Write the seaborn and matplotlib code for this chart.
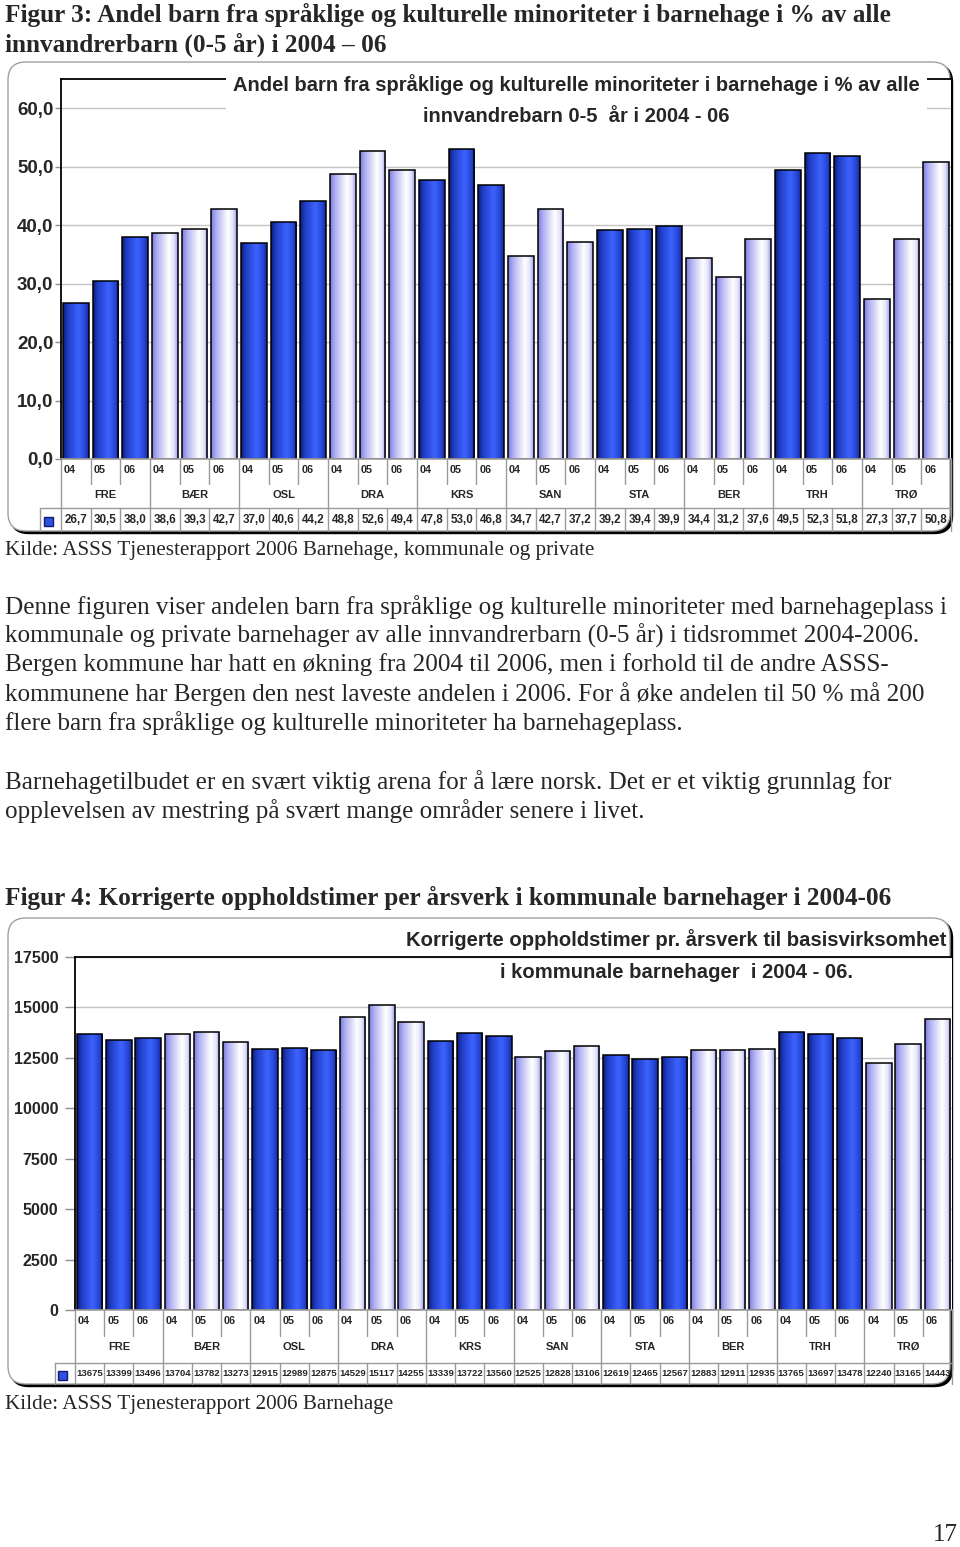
import numpy as np
import pandas as pd
import matplotlib
matplotlib.use("Agg")
import matplotlib.pyplot as plt
import seaborn as sns
from matplotlib.patches import FancyBboxPatch, Rectangle
from matplotlib.colors import LinearSegmentedColormap

# ---------------- data ----------------
groups = ["FRE", "BÆR", "OSL", "DRA", "KRS", "SAN", "STA", "BER", "TRH", "TRØ"]
years = ["04", "05", "06"]
share_values = [26.7, 30.5, 38.0, 38.6, 39.3, 42.7, 37.0, 40.6, 44.2, 48.8,
                52.6, 49.4, 47.8, 53.0, 46.8, 34.7, 42.7, 37.2, 39.2, 39.4,
                39.9, 34.4, 31.2, 37.6, 49.5, 52.3, 51.8, 27.3, 37.7, 50.8]
hours_values = [13675, 13399, 13496, 13704, 13782, 13273, 12915, 12989, 12875, 14529,
                15117, 14255, 13339, 13722, 13560, 12525, 12828, 13106, 12619, 12465,
                12567, 12883, 12911, 12935, 13765, 13697, 13478, 12240, 13165, 14443]
share_ticks = [0, 10, 20, 30, 40, 50, 60]
hours_ticks = [0, 2500, 5000, 7500, 10000, 12500, 15000, 17500]

heading1 = ["Figur 3: Andel barn fra språklige og kulturelle minoriteter i barnehage i % av alle",
            "innvandrerbarn (0-5 år) i 2004 – 06"]
title1 = ["Andel barn fra språklige og kulturelle minoriteter i barnehage i % av alle",
          "innvandrebarn 0-5  år i 2004 - 06"]
source1 = "Kilde: ASSS Tjenesterapport 2006 Barnehage, kommunale og private"
body = ["Denne figuren viser andelen barn fra språklige og kulturelle minoriteter med barnehageplass i",
        "kommunale og private barnehager av alle innvandrerbarn (0-5 år) i tidsrommet 2004-2006.",
        "Bergen kommune har hatt en økning fra 2004 til 2006, men i forhold til de andre ASSS-",
        "kommunene har Bergen den nest laveste andelen i 2006. For å øke andelen til 50 % må 200",
        "flere barn fra språklige og kulturelle minoriteter ha barnehageplass.",
        "Barnehagetilbudet er en svært viktig arena for å lære norsk. Det er et viktig grunnlag for",
        "opplevelsen av mestring på svært mange områder senere i livet."]
heading2 = "Figur 4: Korrigerte oppholdstimer per årsverk i kommunale barnehager i 2004-06"
title2 = ["Korrigerte oppholdstimer pr. årsverk til basisvirksomhet",
          "i kommunale barnehager  i 2004 - 06."]
source2 = "Kilde: ASSS Tjenesterapport 2006 Barnehage"
page_no = "17"

# ---------------- setup ----------------
W, H = 960, 1547
sns.set_theme(style="white")
plt.rcParams["font.family"] = ["Liberation Sans", "DejaVu Sans"]
SERIF = ["Liberation Serif", "DejaVu Serif"]
SANS = ["Liberation Sans", "DejaVu Sans"]

fig = plt.figure(figsize=(W / 100, H / 100), dpi=100)
fig.patch.set_facecolor("white")

bg = fig.add_axes([0, 0, 1, 1], zorder=0)
fg = fig.add_axes([0, 0, 1, 1], zorder=5)
for a in (bg, fg):
    a.set_xlim(0, W)
    a.set_ylim(H, 0)
    a.axis("off")
fg.patch.set_alpha(0)

dark_cmap = LinearSegmentedColormap.from_list(
    "d", [(0, "#0e1c74"), (0.18, "#1f3cc4"), (0.6, "#3d63ff"), (0.85, "#2646d6"), (1, "#142795")])
light_cmap = LinearSegmentedColormap.from_list(
    "l", [(0, "#7a7ae0"), (0.2, "#b0b0f2"), (0.65, "#ffffff"), (0.85, "#e4e4fb"), (1, "#9a9aea")])


def frame(x0, y0, x1, y1):
    bg.add_patch(FancyBboxPatch((x0 + 2.5, y0 + 2.5), x1 - x0, y1 - y0,
                                boxstyle="round,pad=0,rounding_size=18",
                                fc="black", ec="black", lw=1))
    bg.add_patch(FancyBboxPatch((x0, y0), x1 - x0, y1 - y0,
                                boxstyle="round,pad=0,rounding_size=18",
                                fc="white", ec="#a0a0a0", lw=1))


def chart(vals, px, ylim, ticks, fmt, vfmt, geo, tick_fs, tick_len, tick_pad, val_fs, yr_fs, grp_fs):
    x0, y0, x1, y1 = px
    n = len(vals)
    ax = fig.add_axes([x0 / W, 1 - y1 / H, (x1 - x0) / W, (y1 - y0) / H], zorder=1)
    df = pd.DataFrame({
        "label": [f"{g} {y}" for g in groups for y in years],
        "value": vals,
        "kind": ["dark" if i % 2 == 0 else "light" for i in range(len(groups)) for _ in years],
    })
    sns.barplot(data=df, x="label", y="value", hue="kind", order=list(df.label),
                palette={"dark": "#2f50e0", "light": "#e0e0fb"}, dodge=False, width=0.87,
                saturation=1, edgecolor="black", linewidth=1.1, legend=False, ax=ax)
    for p in list(ax.patches):
        bx, bw, bh = p.get_x(), p.get_width(), p.get_height()
        idx = int(round(bx + bw / 2))
        cmap = dark_cmap if df.kind[idx] == "dark" else light_cmap
        im = ax.imshow(np.linspace(0, 1, 128).reshape(1, -1), cmap=cmap,
                       extent=[bx, bx + bw, 0, bh], aspect="auto",
                       interpolation="bilinear", zorder=p.get_zorder() - 0.05)
        im.set_clip_path(p)
        p.set_facecolor("none")

    ax.set_facecolor("white")
    ax.spines["right"].set_visible(False)
    ax.spines["left"].set_color("black")
    ax.spines["left"].set_linewidth(1.3)
    ax.spines["top"].set_color("black")
    ax.spines["top"].set_linewidth(1.3)
    ax.spines["bottom"].set_color("#a0a0a0")
    ax.yaxis.grid(True, color="#c4c4c4", lw=1)
    ax.set_axisbelow(True)
    ax.set_yticks(ticks)
    ax.set_yticklabels([fmt(t) for t in ticks], fontweight="bold", fontsize=tick_fs, family=SANS)
    ax.tick_params(axis="y", left=True, length=tick_len, width=1, color="#909090", pad=tick_pad)
    ax.tick_params(axis="x", bottom=False, labelbottom=False)
    ax.set_xlabel("")
    ax.set_ylabel("")

    trans = ax.get_xaxis_transform()

    def fy(y):
        return (y1 - y) / (y1 - y0)

    def fx(xp):
        return (xp - x0) / (x1 - x0) * n - 0.5

    lc = "#9a9a9a"
    for i in range(n):
        ax.text(i - 0.5 + 0.1, fy(geo["yr"]), years[i % 3], transform=trans, ha="left",
                va="center", fontsize=yr_fs, fontweight="bold", family=SANS, clip_on=False)
        ax.text(i, fy(geo["val"]), vfmt(vals[i]), transform=trans, ha="center",
                va="center", fontsize=val_fs, fontweight="bold", family=SANS, clip_on=False)
    for g in range(len(groups)):
        ax.text(3 * g + 1, fy(geo["grp"]), groups[g], transform=trans, ha="center",
                va="center", fontsize=grp_fs, fontweight="bold", family=SANS, clip_on=False)
    for i in range(n + 1):
        b = i - 0.5
        bot = geo["ttop"] if i % 3 == 0 else geo["short"]
        ax.plot([b, b], [fy(y1), fy(bot)], transform=trans, color=lc, lw=1, clip_on=False)
        ax.plot([b, b], [fy(geo["ttop"]), fy(geo["tbot"])], transform=trans, color=lc, lw=1, clip_on=False)
    lx = fx(geo["lleft"])
    ax.plot([lx, n - 0.5], [fy(geo["ttop"])] * 2, transform=trans, color=lc, lw=1, clip_on=False)
    ax.plot([lx, lx], [fy(geo["ttop"]), fy(geo["tbot"])], transform=trans, color=lc, lw=1, clip_on=False)
    ax.set_xlim(-0.5, n - 0.5)
    ax.set_ylim(*ylim)
    s = 9
    fg.add_patch(Rectangle((geo["lsx"] - s / 2, geo["val"] - s / 2 + 1), s, s,
                           fc="#2f50e0", ec="#101c70", lw=1))
    return ax


# ---------------- chart 1 ----------------
frame(8, 62, 950, 531)
chart(share_values, (61, 79, 951, 459), (0, 65), share_ticks,
      lambda t: f"{t:.1f}".replace(".", ","), lambda v: f"{v:.1f}".replace(".", ","),
      dict(yr=470, grp=495, short=484, ttop=508, val=520, tbot=531, lleft=40, lsx=48),
      tick_fs=13.5, tick_len=4, tick_pad=1.5, val_fs=8.4, yr_fs=7.8, grp_fs=8)
fg.add_patch(Rectangle((226, 70), 701, 65, fc="white", ec="none"))
fg.text(576, 85, title1[0], ha="center", va="center", fontsize=14.5, fontweight="bold", family=SANS)
fg.text(576, 117, title1[1], ha="center", va="center", fontsize=14.5, fontweight="bold", family=SANS)

# ---------------- chart 2 ----------------
frame(8, 918, 950, 1384)
chart(hours_values, (75, 957, 952, 1310), (0, 17500), hours_ticks,
      lambda t: f"{t}", lambda v: f"{v}",
      dict(yr=1321, grp=1347, short=1336, ttop=1363, val=1374, tbot=1384, lleft=55, lsx=62),
      tick_fs=11.5, tick_len=7, tick_pad=5, val_fs=6.8, yr_fs=7.8, grp_fs=8)
fg.text(676, 940, title2[0], ha="center", va="center", fontsize=14.6, fontweight="bold", family=SANS)
fg.text(676, 972, title2[1], ha="center", va="center", fontsize=14.6, fontweight="bold", family=SANS)

# ---------------- page text ----------------
fg.text(5, 15, heading1[0], ha="left", va="center", fontsize=18.2, fontweight="bold", family=SERIF)
fg.text(5, 45, heading1[1], ha="left", va="center", fontsize=18.2, fontweight="bold", family=SERIF)
fg.text(5, 551, source1, ha="left", va="center", fontsize=15.2, family=SERIF)
for y, line in zip([607, 636, 665, 694, 723, 782, 811], body):
    fg.text(5, y, line, ha="left", va="center", fontsize=18.1, family=SERIF)
fg.text(5, 898, heading2, ha="left", va="center", fontsize=18.2, fontweight="bold", family=SERIF)
fg.text(5, 1404, source2, ha="left", va="center", fontsize=15.2, family=SERIF)
fg.text(958, 1535, page_no, ha="right", va="center", fontsize=18, family=SERIF)

fig.savefig("out.png", dpi=100, facecolor="white")
